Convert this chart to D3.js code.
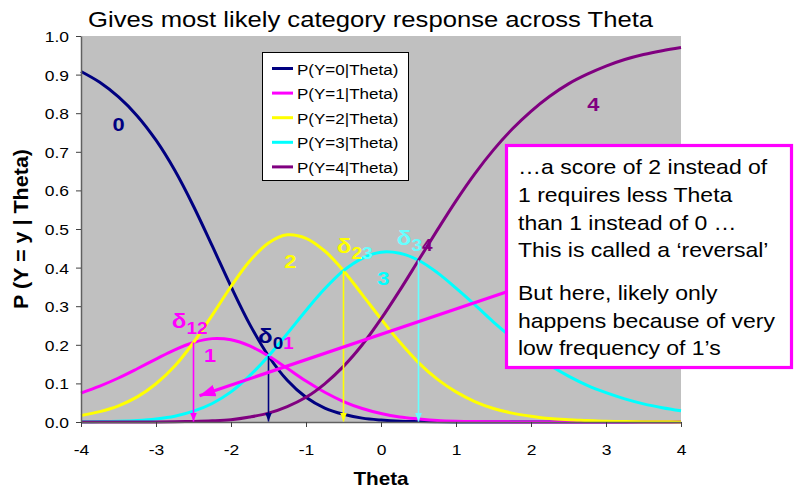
<!DOCTYPE html>
<html><head><meta charset="utf-8">
<script src="https://cdn.jsdelivr.net/npm/d3@7"></script>
<style>
body{margin:0;background:#fff}
svg{display:block}
text{font-family:"Liberation Sans",Arial,Helvetica,sans-serif}
</style>
</head><body>
<svg id="chart" width="794" height="490"></svg>
<script>
// ---------- data ----------
const theta = [-4,-3.75,-3.5,-3.25,-3,-2.75,-2.5,-2.25,-2,-1.75,-1.5,-1.25,-1,-0.75,-0.5,-0.25,0,0.25,0.5,0.75,1,1.25,1.5,1.75,2,2.25,2.5,2.75,3,3.25,3.5,3.75,4];
const pY0 = [0.908,0.880,0.842,0.793,0.730,0.652,0.559,0.456,0.351,0.253,0.171,0.108,0.064,0.036,0.020,0.010,0.005,0.002,0.001,0.0005,0.0002,0.0001,0,0,0,0,0,0,0,0,0,0,0];
const pY1 = [0.075,0.093,0.114,0.138,0.163,0.187,0.206,0.216,0.213,0.197,0.171,0.139,0.106,0.077,0.053,0.035,0.022,0.013,0.008,0.004,0.002,0.001,0.0006,0.0003,0.0002,0.0001,0,0,0,0,0,0,0];
const pY2 = [0.017,0.027,0.042,0.065,0.099,0.145,0.206,0.277,0.351,0.417,0.464,0.485,0.476,0.443,0.392,0.330,0.267,0.207,0.154,0.111,0.078,0.053,0.035,0.023,0.015,0.009,0.006,0.004,0.002,0.0014,0.0009,0.0005,0.0003];
const pY3 = [0.0005,0.001,0.002,0.004,0.008,0.015,0.028,0.048,0.078,0.120,0.171,0.229,0.289,0.345,0.392,0.424,0.440,0.437,0.419,0.387,0.347,0.304,0.259,0.218,0.180,0.147,0.119,0.095,0.076,0.060,0.047,0.037,0.029];
const pY4 = [0,0,0,0.0001,0.0002,0.0006,0.0014,0.003,0.006,0.013,0.023,0.040,0.064,0.099,0.144,0.200,0.267,0.341,0.419,0.497,0.573,0.643,0.705,0.759,0.805,0.844,0.876,0.901,0.922,0.939,0.952,0.962,0.970];
const seriesNames = ["P(Y=0|Theta)","P(Y=1|Theta)","P(Y=2|Theta)","P(Y=3|Theta)","P(Y=4|Theta)"];
const seriesColors = ["#000080","#ff00ff","#ffff00","#00ffff","#800080"];
const xTicks = [-4,-3,-2,-1,0,1,2,3,4];
const yTicks = [0,0.1,0.2,0.3,0.4,0.5,0.6,0.7,0.8,0.9,1.0];

// category labels (text, theta, p)
const catLabels = ["0","1","2","3","4"];
const catLabelTheta = [-3.50,-2.28,-1.21,0.03,2.83];
const catLabelP = [0.772,0.174,0.417,0.373,0.824];

// thresholds: drop-arrows from curve crossings to axis
const deltaTheta = [-2.5,-1.5,-0.5,0.5];
const deltaP = [0.206,0.171,0.392,0.419];
const deltaColors = ["#ff00ff","#000080","#ffff00","#66ffff"];
// threshold labels: δ + subscripts with colours
const deltaLabelTheta = [-2.79,-1.64,-0.59,0.21];
const deltaLabelP = [0.243,0.205,0.438,0.459];
const deltaSub1 = ["1","0","2","3"];
const deltaSub2 = ["2","1","3","4"];
const deltaColA = ["#ff00ff","#000080","#ffff00","#66ffff"];
const deltaColB = ["#ff00ff","#ff00ff","#66ffff","#800080"];

// big pointer arrow (theta,p) from -> to
const pointerFrom = [1.67,0.337];
const pointerTo = [-2.42,0.068];

const noteLines1 = ["\u2026a score of 2 instead of","1 requires less Theta","than 1 instead of 0 \u2026","This is called a \u2018reversal\u2019"];
const noteLines2 = ["But here, likely only","happens because of very","low frequency of 1\u2019s"];

const titleText = "Gives most likely category response across Theta";
const xTitle = "Theta";
const yTitle = "P (Y = y | Theta)";

// ---------- drawing ----------
const SX = 1.15; // horizontal stretch of the reference's text
const svg = d3.select("#chart");
const L = 81, R = 681, T = 36, B = 422;
const x = d3.scaleLinear().domain([-4,4]).range([L,R]);
const y = d3.scaleLinear().domain([0,1]).range([B,T]);
const tf = (px,py,extra="") => `translate(${px},${py}) scale(${SX},1)${extra}`;

svg.append("rect").attr("x",0).attr("y",0).attr("width",794).attr("height",490).attr("fill","#fff");
svg.append("rect").attr("x",L).attr("y",T).attr("width",R-L).attr("height",B-T).attr("fill","#c0c0c0");

// title
svg.append("text").attr("transform",tf(88,27)).attr("font-size",22.3).attr("fill","#000").text(titleText);

// markers
const defs = svg.append("defs");
function marker(id,color,w,h){
  defs.append("marker").attr("id",id).attr("viewBox",`0 0 ${w} ${h}`)
    .attr("refX",w).attr("refY",h/2).attr("markerWidth",w).attr("markerHeight",h)
    .attr("markerUnits","userSpaceOnUse").attr("orient","auto")
    .append("path").attr("d",`M0,0L${w},${h/2}L0,${h}Z`).attr("fill",color);
}
deltaColors.forEach((c,i)=>marker("m"+i,c,9,7));
marker("big","#ff00ff",16,12);

// curves
const series = [pY0,pY1,pY2,pY3,pY4];
const line = d3.line().x((d,i)=>x(theta[i])).y(d=>y(d)).curve(d3.curveCatmullRom);
series.forEach((s,k)=>{
  svg.append("path").attr("d",line(s)).attr("fill","none")
    .attr("stroke",seriesColors[k]).attr("stroke-width",3).attr("stroke-linejoin","round");
});

// axes
const yAxis = d3.axisLeft(y).tickValues(yTicks).tickFormat(d3.format(".1f")).tickSize(5).tickSizeOuter(0);
const gy = svg.append("g").attr("transform",`translate(${L},0)`).call(yAxis);
gy.select(".domain").attr("stroke","#606060").attr("stroke-width",1.5);
gy.selectAll(".tick line").attr("stroke","#404040");
gy.selectAll(".tick text").attr("x",null).attr("dy",null)
  .attr("transform",tf(-12,5.4)).attr("font-size",15.2).attr("fill","#000")
  .attr("font-family",'"Liberation Sans",Arial,sans-serif');

const xAxis = d3.axisBottom(x).tickValues(xTicks).tickFormat(d => String(d)).tickSize(5).tickSizeOuter(0);
const gx = svg.append("g").attr("transform",`translate(0,${B})`).call(xAxis);
gx.select(".domain").attr("stroke","#606060").attr("stroke-width",1.5);
gx.selectAll(".tick line").attr("stroke","#404040");
gx.selectAll(".tick text").attr("y",null).attr("dy",null)
  .attr("transform",tf(0,33)).attr("font-size",15.2).attr("fill","#000")
  .attr("font-family",'"Liberation Sans",Arial,sans-serif');

// axis titles
svg.append("text").attr("transform",tf((L+R)/2,485)).attr("text-anchor","middle")
  .attr("font-size",18).attr("font-weight","bold").text(xTitle);
svg.append("text").attr("transform",`translate(28,229) scale(${SX},1) rotate(-90)`).attr("text-anchor","middle")
  .attr("font-size",18).attr("font-weight","bold").attr("textLength",160).attr("lengthAdjust","spacingAndGlyphs").text(yTitle);

// category labels
catLabels.forEach((t,i)=>{
  svg.append("text").attr("transform",tf(x(catLabelTheta[i]),y(catLabelP[i])+7))
    .attr("text-anchor","middle").attr("font-size",19).attr("font-weight","bold")
    .attr("fill",seriesColors[i]).text(t);
});

// threshold drop arrows
deltaTheta.forEach((d,i)=>{
  svg.append("line").attr("x1",x(d)).attr("x2",x(d)).attr("y1",y(deltaP[i])).attr("y2",y(0)-0.5)
    .attr("stroke",deltaColors[i]).attr("stroke-width",1.6).attr("marker-end",`url(#m${i})`);
});

// threshold labels
deltaLabelTheta.forEach((d,i)=>{
  const t = svg.append("text").attr("transform",tf(x(d),y(deltaLabelP[i])))
    .attr("font-weight","bold");
  t.append("tspan").attr("font-size",21).attr("fill",deltaColA[i]).text("\u03b4");
  t.append("tspan").attr("font-size",16.5).attr("dy",6).attr("fill",deltaColA[i]).text(deltaSub1[i]);
  t.append("tspan").attr("font-size",16.5).attr("fill",deltaColB[i]).text(deltaSub2[i]);
});

// legend
const lg = svg.append("g");
lg.append("rect").attr("x",262.5).attr("y",52.5).attr("width",146).attr("height",128)
  .attr("fill","#fff").attr("stroke","#000").attr("stroke-width",1);
seriesNames.forEach((n,i)=>{
  const by = 74.5 + i*24.6;
  lg.append("line").attr("x1",272).attr("x2",293).attr("y1",by-6).attr("y2",by-6)
    .attr("stroke",seriesColors[i]).attr("stroke-width",3);
  lg.append("text").attr("transform",tf(297,by)).attr("font-size",14.8).attr("fill","#000").text(n);
});

// big pointer arrow
svg.append("line").attr("x1",x(pointerFrom[0])).attr("y1",y(pointerFrom[1]))
  .attr("x2",x(pointerTo[0])).attr("y2",y(pointerTo[1]))
  .attr("stroke","#ff00ff").attr("stroke-width",3.2).attr("marker-end","url(#big)");

// annotation box
svg.append("rect").attr("x",506.5).attr("y",145.5).attr("width",285).attr("height",222)
  .attr("fill","#fff").attr("stroke","#ff00ff").attr("stroke-width",3.2);
noteLines1.forEach((s,i)=>{
  svg.append("text").attr("transform",tf(518,174+i*27.8)).attr("font-size",20).attr("fill","#000").text(s);
});
noteLines2.forEach((s,i)=>{
  svg.append("text").attr("transform",tf(518,300+i*27.6)).attr("font-size",20).attr("fill","#000").text(s);
});
</script>
</body></html>
